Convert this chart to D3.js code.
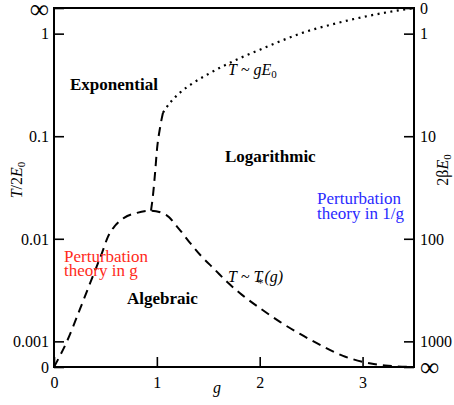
<!DOCTYPE html>
<html>
<head>
<meta charset="utf-8">
<script src="https://cdn.jsdelivr.net/npm/d3@7"></script>
<style>
  body { margin: 0; background: #fff; }
  text { font-family: "Liberation Serif", "Times New Roman", serif; fill: #000; }
</style>
</head>
<body>
<div id="chart"></div>
<script>
// coupling g on x, temperature T/2E0 on left axis (log, 0 and infinity at the ends)
const gTicks = [0, 1, 2, 3];
const tTicks = [0, 0.001, 0.01, 0.1, 1, Infinity];
const tLabels = ["0", "0.001", "0.01", "0.1", "1", "\u221E"];
const betaTicks = [Infinity, 1000, 100, 10, 1, 0];
const betaLabels = ["\u221E", "1000", "100", "10", "1", "0"];

// T ~ T*(g) boundary (dashed)
const lowG = [0, 0.126, 0.253, 0.379, 0.467, 0.525, 0.593, 0.681, 0.807, 0.943,
              1.089, 1.206, 1.322, 1.429, 1.565, 1.692, 1.828, 2.013, 2.197, 2.392, 2.606, 2.81, 3.004, 3.218, 3.5];
const lowT = [0, 0.001, 0.00207, 0.00436, 0.0073, 0.0105, 0.0134, 0.016, 0.0179, 0.0188,
              0.0171, 0.0128, 0.00914, 0.00683, 0.00499, 0.00372, 0.00284, 0.00207, 0.00155, 0.00118, 0.000904, 0.000722, 0.000631, 0.000583, 0];

// crossover up from the peak (dashed)
const upG = [0.943, 0.963, 0.982, 1.001, 1.031, 1.06];
const upT = [0.0188, 0.0269, 0.0431, 0.0738, 0.121, 0.17];

// T ~ gE0 (dotted)
const dotG = [1.06, 1.128, 1.225, 1.342, 1.488, 1.643, 1.808, 2.003, 2.226, 2.392, 2.713, 3.043, 3.364, 3.5];
const dotT = [0.17, 0.212, 0.266, 0.325, 0.398, 0.482, 0.577, 0.698, 0.864, 1.0, 1.238, 1.48, 1.695, Infinity];

var margin = {top: 8, right: 40, bottom: 38, left: 54},
  width = 454 - margin.left - margin.right,
  height = 405 - margin.top - margin.bottom;

var root = d3.select("#chart")
  .append("svg")
    .attr("width", 454)
    .attr("height", 405);

var svg = root.append("g")
    .attr("transform", "translate(" + margin.left + "," + margin.top + ")");

var x = d3.scaleLinear().domain([0, 3.5]).range([0, width]);
var y = d3.scaleLog().domain([Math.pow(10, -3.25), Math.pow(10, 0.25)]).range([height, 0]).clamp(true);
var y2 = d3.scaleLog().domain([Math.pow(10, 3.25), Math.pow(10, -0.25)]).range([height, 0]).clamp(true);

// axes, ticks pointing inward
var xAxis = svg.append("g")
    .attr("transform", "translate(0," + height + ")")
    .call(d3.axisBottom(x).tickValues(gTicks).tickSizeInner(-10).tickSizeOuter(0).tickPadding(6).tickFormat(d3.format("d")));

var yAxis = svg.append("g")
    .call(d3.axisLeft(y).tickValues(tTicks).tickSizeInner(-10).tickSizeOuter(0).tickPadding(5)
      .tickFormat(function(d, i) { return tLabels[i]; }));

var y2Axis = svg.append("g")
    .attr("transform", "translate(" + width + ",0)")
    .call(d3.axisRight(y2).tickValues(betaTicks).tickSizeInner(-10).tickSizeOuter(0).tickPadding(6)
      .tickFormat(function(d, i) { return betaLabels[i]; }));

[xAxis, yAxis, y2Axis].forEach(function(a) {
  a.select(".domain").remove();
  a.selectAll("line").attr("stroke", "#000").attr("stroke-width", 1.6);
  a.selectAll("text").style("font-size", "16px").attr("fill", "#000");
});
xAxis.selectAll("text").attr("dy", "0.95em");
yAxis.selectAll("text").attr("dy", "0.33em");
y2Axis.selectAll("text").attr("dy", "0.33em");
yAxis.selectAll("text").filter(function() { return this.textContent === "\u221E"; })
  .style("font-size", "27px").attr("dy", "0.36em");
y2Axis.selectAll("text").filter(function() { return this.textContent === "\u221E"; })
  .style("font-size", "27px").attr("dy", "0.3em");

// frame
svg.append("rect")
  .attr("width", width).attr("height", height)
  .attr("fill", "none").attr("stroke", "#000").attr("stroke-width", 2);

var line = d3.line()
  .x(function(d) { return x(d[0]); })
  .y(function(d) { return y(d[1]); })
  .curve(d3.curveMonotoneX);

svg.append("path")
  .datum(d3.zip(lowG, lowT))
  .attr("d", line)
  .attr("fill", "none").attr("stroke", "#000").attr("stroke-width", 2)
  .attr("stroke-dasharray", "9,6");

svg.append("path")
  .datum(d3.zip(upG, upT))
  .attr("d", line)
  .attr("fill", "none").attr("stroke", "#000").attr("stroke-width", 2)
  .attr("stroke-dasharray", "9,6");

svg.append("path")
  .datum(d3.zip(dotG, dotT))
  .attr("d", line)
  .attr("fill", "none").attr("stroke", "#000").attr("stroke-width", 2.2)
  .attr("stroke-dasharray", "2,4.5");

// labels (page coordinates)
var ann = root.append("g");

function label(txt, px, py, opts) {
  var t = ann.append("text").attr("x", px).attr("y", py)
    .style("font-size", (opts.size || 17) + "px");
  if (opts.bold) t.style("font-weight", "bold");
  if (opts.italic) t.style("font-style", "italic");
  if (opts.color) t.style("fill", opts.color);
  if (opts.anchor) t.attr("text-anchor", opts.anchor);
  t.text(txt);
  return t;
}

label("Exponential", 70, 90, {bold: true});
label("Logarithmic", 225, 162, {bold: true});
label("Algebraic", 127, 304, {bold: true});

label("Perturbation", 64, 262, {color: "#ff2a1a"});
label("theory in g", 64, 276, {color: "#ff2a1a"});
label("Perturbation", 317, 204, {color: "#2a2aff"});
label("theory in 1/g", 317, 219, {color: "#2a2aff"});

// T ~ gE0
var t1 = ann.append("text").attr("x", 228).attr("y", 75).style("font-size", "16px");
t1.append("tspan").style("font-style", "italic").text("T");
t1.append("tspan").text(" ~ ");
t1.append("tspan").style("font-style", "italic").text("gE");
t1.append("tspan").attr("dy", 3).style("font-size", "11px").text("0");

// T ~ T*(g)
var t2 = ann.append("text").attr("x", 228).attr("y", 282).style("font-size", "16px");
t2.append("tspan").style("font-style", "italic").text("T");
t2.append("tspan").text(" ~ ");
t2.append("tspan").style("font-style", "italic").text("T");
t2.append("tspan").attr("dx", -5).attr("dy", 5).style("font-size", "12px").text("*");
t2.append("tspan").attr("dx", 1).attr("dy", -5).style("font-style", "italic").text("(g)");

// axis titles
label("g", 217, 393, {italic: true, size: 16, anchor: "middle"});

var yl = ann.append("text")
  .attr("transform", "translate(22,180) rotate(-90)")
  .attr("text-anchor", "middle").style("font-size", "16px");
yl.append("tspan").style("font-style", "italic").text("T");
yl.append("tspan").text("/2");
yl.append("tspan").style("font-style", "italic").text("E");
yl.append("tspan").attr("dy", 3).style("font-size", "11px").text("0");

var yr = ann.append("text")
  .attr("transform", "translate(448,170) rotate(-90)")
  .attr("text-anchor", "middle").style("font-size", "16px");
yr.append("tspan").text("2\u03B2");
yr.append("tspan").style("font-style", "italic").text("E");
yr.append("tspan").attr("dy", 3).style("font-size", "11px").text("0");
</script>
</body>
</html>
